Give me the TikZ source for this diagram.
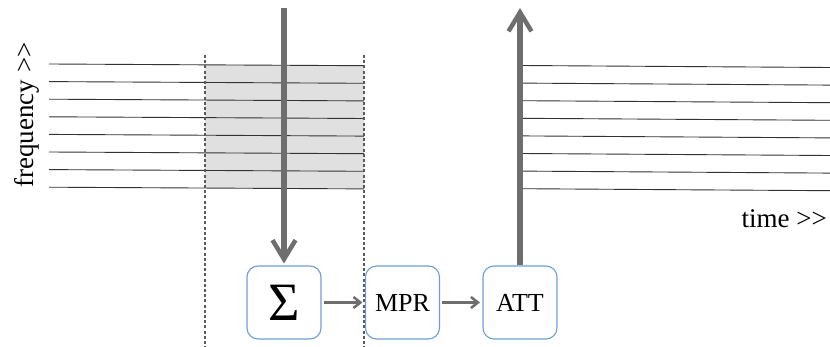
\documentclass[tikz,border=0pt]{standalone}
\usepackage{fontspec}
\setmainfont{Liberation Serif}
\usetikzlibrary{arrows.meta}
\definecolor{arrgray}{HTML}{6E6E6E}
\definecolor{boxblue}{HTML}{6E9ED6}
\definecolor{bandgray}{HTML}{E0E0E0}
\definecolor{dotgray}{HTML}{5A5A5A}
\tikzset{
  blk/.style={draw=boxblue, line width=1.1pt, rounded corners=11pt, fill=white,
    minimum width=74pt, minimum height=73pt, inner sep=0pt, font=\fontsize{26}{28}\selectfont},
  bigarrow/.style={draw=arrgray, line width=5.5pt,
    -{Straight Barb[length=19pt,width=23pt,line width=4.5pt]}},
  smallarrow/.style={draw=arrgray, line width=3pt,
    -{Straight Barb[length=7pt,width=11pt,line width=2.5pt]}},
  thin/.style={draw=black!80, line width=0.9pt},
  dotline/.style={draw=dotgray, line width=2.6pt, dash pattern=on 3pt off 2.2pt},
  lbl/.style={font=\fontsize{27}{30}\selectfont, inner sep=0pt}
}
\begin{document}
\begin{tikzpicture}[x=1pt,y=-1pt]
\useasboundingbox (0,0) rectangle (830,347);
% shaded region
\fill[bandgray] (205,65.5) rectangle (364,188);
% left lines
\foreach \y in {64,81.6,99.2,116.8,134.4,152,169.6,187.2}{
  \draw[thin] (49,\y) -- (364,\y+1.7);
}
% right lines
\foreach \y in {65.5,83.1,100.7,118.3,135.9,153.5,171.1,188.7}{
  \draw[thin] (521,\y) -- (830,\y+2);
}
% dotted verticals
\draw[dotline] (205,55) -- (205,347);
\draw[dotline] (364,55) -- (364,347);
% boxes
\node[blk, font=\fontsize{54}{56}\selectfont] (sig) at (284,302.5) {\raisebox{-3pt}{Σ}};
\node[blk] (mpr) at (402.5,302.5) {MPR};
\node[blk] (att) at (520,302.5) {ATT};
% arrows
\coordinate (top) at (284,8);
\coordinate (out) at (520,8);
\draw[bigarrow, shorten >=2pt] (top) -- (sig.north);
\draw[bigarrow] (att.north) -- (out);
\draw[smallarrow, shorten <=2pt, shorten >=2.5pt] (sig.east) -- (mpr.west);
\draw[smallarrow, shorten <=2pt, shorten >=2.5pt] (mpr.east) -- (att.west);
% labels
\node[lbl, rotate=90] (freq) at (27,115) {frequency >{}>};
\node[lbl, anchor=base east] (time) at (827,228) {time >{}>};
\end{tikzpicture}
\end{document}
